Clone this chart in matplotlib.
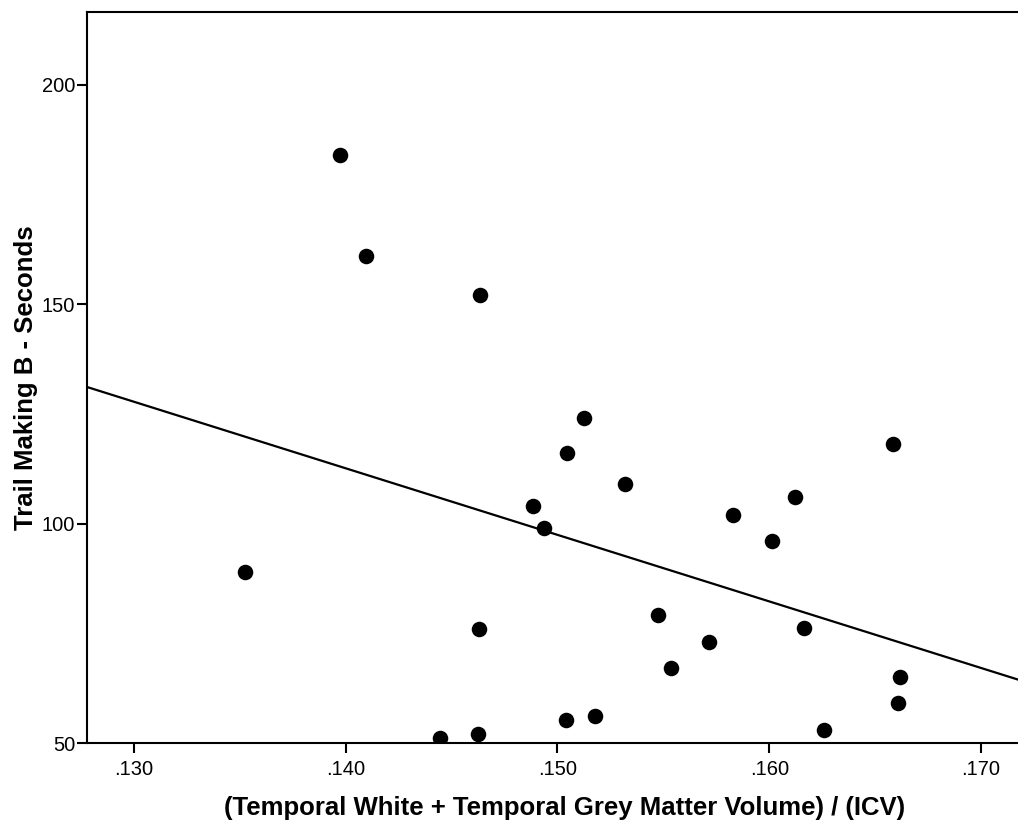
import numpy as np
import matplotlib as mpl
import matplotlib.pyplot as plt

mpl.use('Agg')
plt.rcParams['font.family'] = ['Liberation Sans', 'DejaVu Sans']

# volume ratio and trail making B seconds
vol_ratio = [0.13524, 0.13972, 0.14094, 0.14632, 0.14627, 0.14443, 0.14623,
             0.14882, 0.14934, 0.15047, 0.15127, 0.15038, 0.15179, 0.15321,
             0.15476, 0.15538, 0.15717, 0.15830, 0.16014, 0.16123, 0.16165,
             0.16259, 0.16585, 0.16618, 0.16608]
trail_b = [89.0, 184.1, 161.0, 152.1, 76.0, 51.1, 52.1,
           104.0, 99.0, 116.1, 124.1, 55.2, 56.2, 109.1,
           79.2, 67.1, 73.0, 102.0, 96.1, 106.1, 76.2,
           53.0, 118.2, 65.0, 59.1]

x_ticks = [0.130, 0.140, 0.150, 0.160, 0.170]
x_labels = ['.130', '.140', '.150', '.160', '.170']
y_ticks = [50, 100, 150, 200]

fig = plt.figure(figsize=(10.18, 8.22), dpi=100)
ax = fig.add_axes([0.0855, 0.0961, 0.9145, 0.8893])

ax.scatter(vol_ratio, trail_b, s=125, color='black', zorder=3, linewidths=0)

# least squares line
b, a = np.polyfit(vol_ratio, trail_b, 1)
xs = np.array([0.12778, 0.17175])
ax.plot(xs, a + b * xs, color='black', lw=1.6)

ax.set_xlim(0.12778, 0.17175)
ax.set_ylim(50, 216.6)
ax.set_xticks(x_ticks)
ax.set_xticklabels(x_labels)
ax.set_yticks(y_ticks)
ax.tick_params(direction='out', length=7.5, width=1.5, labelsize=14.5, pad=1)
ax.tick_params(axis='x', pad=5)
for side in ['left', 'bottom', 'top']:
    ax.spines[side].set_linewidth(1.5)
ax.spines['right'].set_visible(False)

ax.set_xlabel('(Temporal White + Temporal Grey Matter Volume) / (ICV)',
              fontsize=18.5, fontweight='bold', va='center')
ax.xaxis.set_label_coords(0.513, -0.089)
ax.set_ylabel('Trail Making B - Seconds', fontsize=18.5, fontweight='bold', va='center')
ax.yaxis.set_label_coords(-0.066, 0.5)

fig.savefig('out.png', dpi=100)
